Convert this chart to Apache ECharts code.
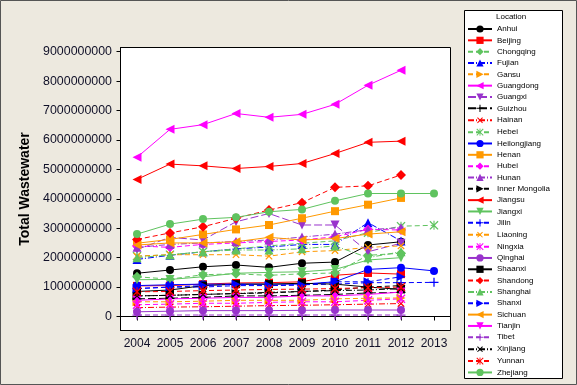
<!DOCTYPE html>
<html><head><meta charset="utf-8">
<script src="https://cdn.jsdelivr.net/npm/echarts@6/dist/echarts.min.js"></script>
<style>html,body{margin:0;padding:0;background:#EDE9DF}#c{width:577px;height:385px}</style>
</head><body><div id="c"></div>
<script>
const years = ['2004','2005','2006','2007','2008','2009','2010','2011','2012','2013'];
const provinces = ['Anhui','Beijing','Chongqing','Fujian','Gansu','Guangdong','Guangxi','Guizhou','Hainan','Hebei',
 'Heilongjiang','Henan','Hubei','Hunan','Inner Mongolia','Jiangsu','Jiangxi','Jilin','Liaoning','Ningxia',
 'Qinghai','Shaanxi','Shandong','Shanghai','Shanxi','Sichuan','Tianjin','Tibet','Xinjiang','Yunnan','Zhejiang'];
const yTickValues = [0,1e9,2e9,3e9,4e9,5e9,6e9,7e9,8e9,9e9];

const Anhui        = [1.47e9,1.58e9,1.69e9,1.75e9,1.67e9,1.81e9,1.85e9,2.43e9,2.54e9];
const Beijing      = [1.04e9,1.05e9,1.10e9,1.14e9,1.15e9,1.18e9,1.40e9,1.48e9,1.44e9];
const Chongqing    = [1.35e9,1.27e9,1.42e9,1.45e9,1.40e9,1.45e9,1.48e9,2.08e9,2.15e9];
const Fujian       = [1.94e9,2.08e9,2.20e9,2.30e9,2.36e9,2.45e9,2.45e9,3.19e9,2.57e9];
const Gansu        = [0.50e9,0.50e9,0.52e9,0.55e9,0.55e9,0.55e9,0.60e9,0.62e9,0.63e9];
const Guangdong    = [5.41e9,6.36e9,6.52e9,6.90e9,6.77e9,6.87e9,7.21e9,7.86e9,8.37e9];
const Guangxi      = [2.28e9,2.69e9,2.60e9,3.22e9,3.50e9,3.11e9,3.11e9,2.20e9,2.49e9];
const Guizhou      = [0.60e9,0.62e9,0.65e9,0.70e9,0.70e9,0.72e9,0.75e9,0.80e9,0.82e9];
const Hainan       = [0.30e9,0.32e9,0.33e9,0.35e9,0.37e9,0.38e9,0.40e9,0.42e9,0.44e9];
const Hebei        = [2.05e9,2.10e9,2.20e9,2.30e9,2.40e9,2.49e9,2.57e9,2.85e9,3.07e9,3.10e9];
const Heilongjiang = [1.05e9,1.08e9,1.10e9,1.10e9,1.10e9,1.10e9,1.18e9,1.60e9,1.66e9,1.55e9];
const Henan        = [2.49e9,2.62e9,2.79e9,2.96e9,3.11e9,3.34e9,3.58e9,3.80e9,4.03e9];
const Hubei        = [2.40e9,2.35e9,2.45e9,2.50e9,2.55e9,2.60e9,2.71e9,2.96e9,2.94e9];
const Hunan        = [2.35e9,2.45e9,2.50e9,2.55e9,2.60e9,2.70e9,2.80e9,2.95e9,3.02e9];
const InnerMongolia= [0.70e9,0.72e9,0.75e9,0.78e9,0.80e9,0.85e9,0.90e9,1.00e9,1.05e9];
const Jiangsu      = [4.66e9,5.18e9,5.12e9,5.03e9,5.10e9,5.20e9,5.54e9,5.92e9,5.96e9];
const Jiangxi      = [1.25e9,1.26e9,1.35e9,1.47e9,1.50e9,1.52e9,1.60e9,1.92e9,2.00e9];
const Jilin        = [0.95e9,1.00e9,1.00e9,1.05e9,1.05e9,1.08e9,1.10e9,1.15e9,1.15e9,1.16e9];
const Liaoning     = [2.05e9,2.10e9,2.10e9,2.10e9,2.05e9,2.20e9,2.24e9,2.35e9,2.40e9];
const Ningxia      = [0.40e9,0.42e9,0.45e9,0.45e9,0.48e9,0.50e9,0.50e9,0.55e9,0.60e9];
const Qinghai      = [0.16e9,0.18e9,0.20e9,0.20e9,0.20e9,0.21e9,0.22e9,0.22e9,0.22e9];
const Shaanxi      = [0.85e9,0.90e9,1.05e9,1.10e9,1.10e9,1.13e9,1.10e9,1.00e9,0.92e9];
const Shandong     = [2.62e9,2.84e9,3.05e9,3.34e9,3.62e9,3.87e9,4.39e9,4.44e9,4.81e9];
const Shanghai     = [2.00e9,2.09e9,2.20e9,2.26e9,2.26e9,2.30e9,2.40e9,2.00e9,2.20e9];
const Shanxi       = [0.95e9,1.00e9,1.05e9,1.10e9,1.05e9,1.07e9,1.18e9,1.18e9,1.35e9];
const Sichuan      = [2.43e9,2.50e9,2.50e9,2.54e9,2.69e9,2.60e9,2.65e9,2.80e9,2.88e9];
const Tianjin      = [0.55e9,0.60e9,0.62e9,0.65e9,0.65e9,0.70e9,0.70e9,0.75e9,0.83e9];
const Tibet        = [0.05e9,0.05e9,0.05e9,0.05e9,0.05e9,0.05e9,0.05e9,0.05e9,0.05e9];
const Xinjiang     = [0.70e9,0.72e9,0.75e9,0.78e9,0.82e9,0.85e9,0.88e9,0.90e9,0.95e9];
const Yunnan       = [0.84e9,0.85e9,0.88e9,0.90e9,0.92e9,0.93e9,0.95e9,0.98e9,1.00e9];
const Zhejiang     = [2.80e9,3.14e9,3.31e9,3.37e9,3.56e9,3.64e9,3.93e9,4.18e9,4.18e9,4.18e9];

const seriesValues = [Anhui,Beijing,Chongqing,Fujian,Gansu,Guangdong,Guangxi,Guizhou,Hainan,Hebei,
 Heilongjiang,Henan,Hubei,Hunan,InnerMongolia,Jiangsu,Jiangxi,Jilin,Liaoning,Ningxia,
 Qinghai,Shaanxi,Shandong,Shanghai,Shanxi,Sichuan,Tianjin,Tibet,Xinjiang,Yunnan,Zhejiang];

// styles
const palette = ['#000000','#FF0000','#5FC35F','#0000FF','#FF9900','#FF00FF','#9933CC'];
const PLUS = 'path://M4.3,0H5.7V4.3H10V5.7H5.7V10H4.3V5.7H0V4.3H4.3Z';
const ASTER = 'path://M4.4,0H5.6V10H4.4Z M0,1L1,0L5,4L9,0L10,1L6,5L10,9L9,10L5,6L1,10L0,9L4,5Z';
const symbolCycle = [
  {s:'circle',size:8,rot:0},
  {s:'rect',size:8,rot:0},
  {s:'diamond',size:10,rot:0},
  {s:'triangle',size:9,rot:0},
  {s:'triangle',size:9,rot:-90},
  {s:'triangle',size:9,rot:90},
  {s:'triangle',size:9,rot:180},
  {s:PLUS,size:9,rot:0},
  {s:PLUS,size:9,rot:45},
  {s:ASTER,size:9,rot:0}
];
const SOLID='solid', DASH=[5,3], DASHDOT=[6,2,1,2], LONG=[8,3];
const lineTypes = [SOLID,SOLID,DASH,DASHDOT,DASH,SOLID,LONG,LONG,DASHDOT,DASH,
  SOLID,SOLID,DASH,DASHDOT,DASH,SOLID,SOLID,DASH,DASH,DASH,
  SOLID,SOLID,DASH,DASHDOT,DASH,SOLID,SOLID,DASH,DASHDOT,DASH,SOLID];

const series = provinces.map((name,i)=>{
  const sym = symbolCycle[i%10];
  const col = palette[i%7];
  return {
    name, type:'line', data: seriesValues[i],
    symbol: sym.s, symbolSize: sym.size, symbolRotate: sym.rot,
    itemStyle:{color:col, borderWidth:0},
    lineStyle:{color:col, width:1, type: lineTypes[i]},
    emphasis:{disabled:true}, animation:false
  };
});

// plot frame: 0 sits at y=316.5, 9e9 at y=51.7 inside a frame spanning 47.5..330.5
const pxPerUnit = (316.5 - 51.7) / 9e9;
const yMin = -(330.5 - 316.5) / pxPerUnit;
const yMax = 9e9 + (51.7 - 47.5) / pxPerUnit;

const chart = echarts.init(document.getElementById('c'), null, {renderer:'canvas'});
const FONT = 'Liberation Sans';
chart.setOption({
  backgroundColor:'#EDE9DF',
  animation:false,
  textStyle:{fontFamily:FONT},
  grid:{left:120.5, right:126.5, top:47.5, bottom:54.5},
  xAxis:{type:'category', data:years, boundaryGap:true,
    axisLine:{show:true, lineStyle:{color:'#000', width:1}},
    axisTick:{show:true, alignWithLabel:true, length:4, lineStyle:{color:'#000'}},
    axisLabel:{interval:0, margin:7, fontSize:12, color:'#101028', fontFamily:FONT},
    splitLine:{show:false}},
  yAxis:{type:'value', min:yMin, max:yMax,
    axisLine:{show:true, lineStyle:{color:'#000', width:1}},
    axisTick:{show:true, length:4, lineStyle:{color:'#000'}, customValues:yTickValues},
    axisLabel:{margin:8.5, fontSize:12.4, color:'#101028', fontFamily:FONT, customValues:yTickValues,
      formatter:v=>String(Math.round(v))},
    splitLine:{show:false}},
  legend:{orient:'vertical', left:467, top:24.5, padding:0,
    itemWidth:24, itemHeight:9, itemGap:2.33,
    textStyle:{fontSize:8, color:'#000', fontFamily:FONT, lineHeight:9, padding:[0,0,0,0]},
    data:provinces, selectedMode:false},
  graphic:[
    {type:'rect', z:-10, shape:{x:0.5,y:0.5,width:576,height:384}, style:{fill:'#EDE9DF', stroke:'#555', lineWidth:1}},
    {type:'rect', z:-5, shape:{x:120.5,y:47.5,width:330,height:283}, style:{fill:'#fff', stroke:'#000', lineWidth:1}},
    {type:'rect', z:-5, shape:{x:464.5,y:10.5,width:98,height:368}, style:{fill:'#fff', stroke:'#000', lineWidth:1}},
    {type:'text', z:10, left:496, top:13, style:{text:'Location', fontSize:8, fontFamily:FONT, fill:'#000'}},
    {type:'text', z:10, x:25, y:189, rotation:Math.PI/2, style:{text:'Total Wastewater', fontSize:14, fontWeight:'bold', fontFamily:FONT, fill:'#000', align:'center', verticalAlign:'middle'}}
  ],
  series
});
</script></body></html>
